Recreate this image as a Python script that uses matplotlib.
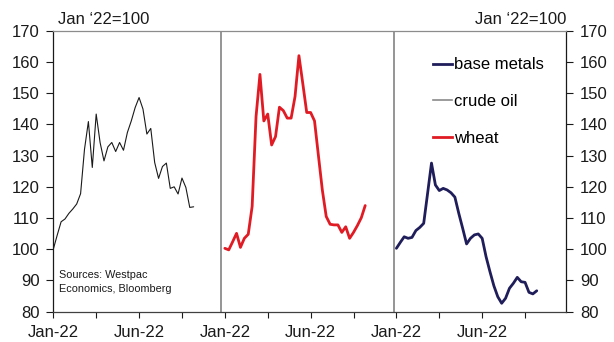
import matplotlib.pyplot as plt
from matplotlib.lines import Line2D

plt.rcParams['font.family'] = ['Liberation Sans', 'DejaVu Sans']

# Weekly prices indexed to Jan '22 = 100, Jan-22 to early Sep-22
crude_oil = [100, 104.5, 108.8, 109.7, 111.5, 112.9, 114.5, 117.8, 132, 140.9,
             126.2, 143.3, 134.2, 128.3, 132.8, 134.2, 131.3, 134.2, 131.7, 137.4,
             141.1, 145.4, 148.6, 144.9, 136.9, 138.7, 127.8, 122.7, 126.5, 127.6,
             119.5, 120, 117.7, 122.8, 119.8, 113.4, 113.6]
wheat = [100.3, 99.8, 102.4, 105.1, 100.6, 103.5, 104.8, 113.7, 142.5, 156,
         141.1, 143.3, 133.4, 136.1, 145.5, 144.4, 142, 142, 148.9, 162,
         153, 143.8, 143.8, 141.1, 130, 119, 110.5, 108, 107.8, 107.8,
         105.4, 107.2, 103.5, 105.4, 107.6, 110.1, 114]
base_metals = [100.3, 102.2, 104, 103.5, 103.8, 106, 107, 108.3, 117.9, 127.6,
               120.6, 118.8, 119.5, 119, 118.1, 116.7, 111.5, 106.7, 101.7, 103.5,
               104.6, 104.9, 103.5, 97.6, 92.8, 88.3, 84.8, 82.7, 84.3, 87.5,
               89.1, 91, 89.6, 89.4, 86.2, 85.7, 86.7]

panel_labels = ['Jan-22', '', 'Jun-22', '']
y_ticks = [80, 90, 100, 110, 120, 130, 140, 150, 160, 170]

# each panel spans 44 weeks on a shared weekly axis
panel_width = 44
tick_step = 11

navy = '#1f1d5a'
red = '#e01b24'
grey = '#8c8c8c'
fs = 12

fig = plt.figure(figsize=(6.14, 3.42), dpi=100)
ax = fig.add_axes([53.3 / 614, 1 - 311.7 / 342, (566 - 53.3) / 614, (311.7 - 30.7) / 342])

series = [(crude_oil, '#1a1a1a', 0.8), (wheat, red, 2.0), (base_metals, navy, 2.0)]
for p, (vals, col, lw) in enumerate(series):
    x0 = p * panel_width
    ax.plot([x0 + i for i in range(len(vals))], vals, color=col, lw=lw,
            solid_joinstyle='round', solid_capstyle='round')

# panel separators
for xs in [42.9, 87.4]:
    ax.axvline(xs, color=grey, lw=1.3)

ax.set_xlim(0, 131.5)
ax.set_ylim(80, 170)
ax.set_yticks(y_ticks)
ax.set_xticks(range(0, 3 * panel_width, tick_step))
ax.set_xticklabels(panel_labels * 3)

ax.tick_params(axis='y', left=True, right=True, labelleft=True, labelright=True,
               direction='out', length=5, width=0.8, pad=5, labelsize=fs,
               colors='#1a1a1a')
ax.tick_params(axis='x', direction='out', length=4, width=0.8, pad=5.5,
               labelsize=fs, colors='#1a1a1a')

ax.spines['left'].set_color('#1a1a1a')
ax.spines['right'].set_color('#1a1a1a')
ax.spines['bottom'].set_color('#404040')
ax.spines['top'].set_color(grey)
for s in ax.spines.values():
    s.set_linewidth(0.9)

ax.text(0.009, 1.012, 'Jan \u201822=100', transform=ax.transAxes, ha='left',
        va='bottom', fontsize=fs, color='#1a1a1a')
ax.text(1.0, 1.012, 'Jan \u201822=100', transform=ax.transAxes, ha='right',
        va='bottom', fontsize=fs, color='#1a1a1a')

ax.text(0.011, 0.148, 'Sources: Westpac\nEconomics, Bloomberg', transform=ax.transAxes,
        ha='left', va='top', fontsize=7.8, linespacing=1.45, color='#1a1a1a')

handles = [Line2D([], [], color=navy, lw=2.0),
           Line2D([], [], color='#8a8a8a', lw=1.2),
           Line2D([], [], color=red, lw=2.0)]
ax.legend(handles, ['base metals', 'crude oil', 'wheat'], loc='upper left',
          bbox_to_anchor=(0.741, 0.905), frameon=False, fontsize=fs,
          handlelength=1.1, handletextpad=0.12, labelspacing=1.3,
          borderpad=0, borderaxespad=0)

fig.savefig('out.png', dpi=100)
